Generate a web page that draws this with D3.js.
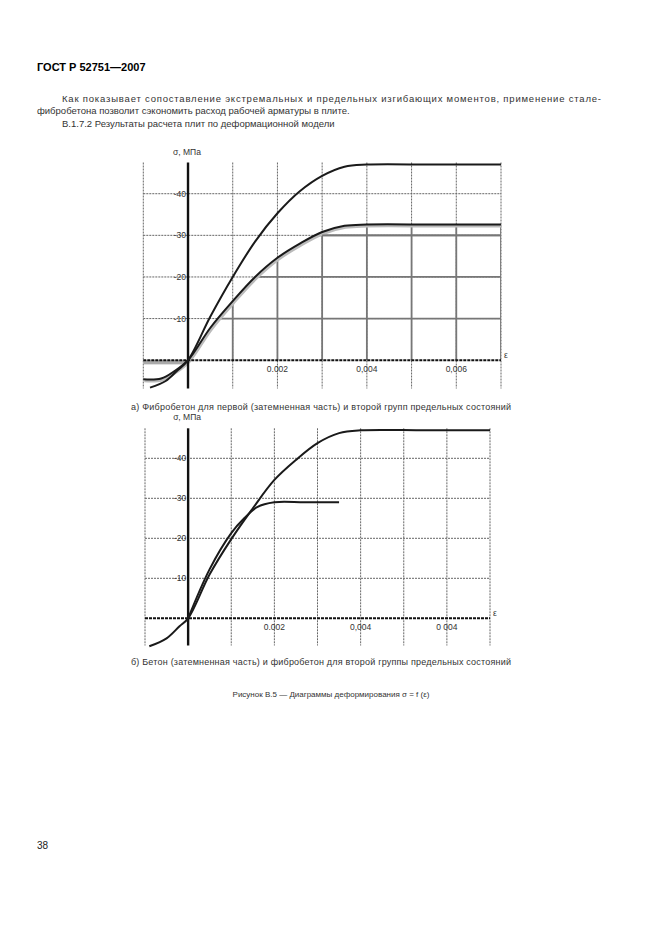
<!DOCTYPE html>
<html lang="ru">
<head>
<meta charset="UTF-8">
<title>ГОСТ Р 52751—2007</title>
<style>
  * { margin: 0; padding: 0; }
  body { background: #fff; }
  svg { display: block; font-family: "Liberation Sans", Arial, sans-serif; }
</style>
</head>
<body>
<script src="https://cdn.jsdelivr.net/npm/d3@7"></script>
<script>
// ---- данные ----
var xTicks = [0.002, 0.004, 0.006];
var yTicks = [10, 20, 30, 40];
var xLabelsA = ["0.002", "0,004", "0,006"];
var xLabelsB = ["0.002", "0,004", "0 004"];
var gridX = [-0.001, 0.001, 0.002, 0.003, 0.004, 0.005, 0.006, 0.007];

// график а: два фибробетона
var epsA1 = [-0.00085, -0.0005, -0.00025, 0, 0.0005, 0.001, 0.0015, 0.002, 0.0025, 0.003, 0.0035, 0.004, 0.0055, 0.007];
var sigA1 = [-6.6, -5, -2.6, 0, 10.5, 20, 28.5, 35.3, 40.6, 44.3, 46.5, 47, 47, 47];
var epsA2 = [-0.001, -0.0006, -0.0003, 0, 0.0005, 0.001, 0.0015, 0.002, 0.0025, 0.003, 0.0035, 0.004, 0.0055, 0.007];
var sigA2 = [-4.6, -4.4, -2.6, 0, 7.8, 14.2, 20, 24.6, 28, 30.8, 32.3, 32.6, 32.6, 32.6];
var epsA3 = [0.003, 0.007];
var sigA3 = [30, 30];

// график б: бетон и фибробетон
var epsB1 = [-0.0009, -0.0005, -0.0002, 0, 0.0005, 0.001, 0.0015, 0.002, 0.0025, 0.003, 0.0035, 0.004, 0.0055, 0.007];
var sigB1 = [-7, -5, -2, 0, 11, 19.8, 27.5, 34.6, 39.6, 43.8, 46.3, 47, 47, 47];
var epsB2 = [0, 0.0005, 0.001, 0.0013, 0.0016, 0.002, 0.0027, 0.0035];
var sigB2 = [0, 12.3, 21.3, 25, 27.8, 29, 29, 29];

var W = 661, H = 936;
var svg = d3.select("body").append("svg").attr("width", W).attr("height", H);

// ---- текст страницы ----
svg.append("text").attr("x", 37).attr("y", 71).attr("font-size", 11).attr("font-weight", "bold")
  .text("ГОСТ Р 52751—2007");
svg.append("text").attr("x", 62).attr("y", 102).attr("font-size", 9.5).attr("fill", "#333")
  .attr("textLength", 539).attr("lengthAdjust", "spacing")
  .text("Как показывает сопоставление экстремальных и предельных изгибающих моментов, применение стале-");
svg.append("text").attr("x", 37).attr("y", 114).attr("font-size", 9.5).attr("fill", "#333")
  .text("фибробетона позволит сэкономить расход рабочей арматуры в плите.");
svg.append("text").attr("x", 62).attr("y", 127).attr("font-size", 9.5).attr("fill", "#333")
  .text("В.1.7.2 Результаты расчета плит по деформационной модели");

function zip(e, s) { return e.map(function (v, i) { return [v, s[i]]; }); }

function chart(cfg) {
  var x = d3.scaleLinear().domain([-0.001, 0.007]).range([cfg.x0, cfg.x1]);
  var y = d3.scaleLinear().domain([-6.8, 47.5]).range([cfg.yBot, cfg.yTop]);
  var g = svg.append("g");
  var line = d3.line().x(function (d) { return x(d[0]); }).y(function (d) { return y(d[1]); }).curve(d3.curveCatmullRom.alpha(0.5));

  // сетка
  g.selectAll(".gx").data(gridX).enter().append("line")
    .attr("x1", function (d) { return x(d); }).attr("x2", function (d) { return x(d); })
    .attr("y1", y(47.5)).attr("y2", y(-6.8))
    .attr("stroke", "#666").attr("stroke-width", 1).attr("stroke-dasharray", "2,1");
  g.selectAll(".gy").data(yTicks).enter().append("line")
    .attr("x1", x(-0.001)).attr("x2", x(0.007))
    .attr("y1", function (d) { return y(d); }).attr("y2", function (d) { return y(d); })
    .attr("stroke", "#666").attr("stroke-width", 1).attr("stroke-dasharray", "2,1");

  // затемненная часть
  if (cfg.shade) {
    var pts = zip(epsA2, sigA2).filter(function (d) { return d[0] >= 0; });
    var area = d3.area().x(function (d) { return x(d[0]); }).y0(y(0)).y1(function (d) { return y(d[1]); }).curve(d3.curveCatmullRom.alpha(0.5));
    svg.append("clipPath").attr("id", "shade").append("path").attr("d", area(pts));
    var sg = g.append("g").attr("clip-path", "url(#shade)");
    sg.selectAll(".sx").data(gridX).enter().append("line")
      .attr("x1", function (d) { return x(d); }).attr("x2", function (d) { return x(d); })
      .attr("y1", y(47.5)).attr("y2", y(0))
      .attr("stroke", "#777").attr("stroke-width", 1.8);
    sg.selectAll(".sy").data(yTicks).enter().append("line")
      .attr("x1", x(0)).attr("x2", x(0.007))
      .attr("y1", function (d) { return y(d); }).attr("y2", function (d) { return y(d); })
      .attr("stroke", "#777").attr("stroke-width", 1.8);
    g.append("path").attr("d", line(zip(epsA2, sigA2))).attr("fill", "none")
      .attr("stroke", "#bbb").attr("stroke-width", 3).attr("transform", "translate(1,1.5)");
    g.append("path").attr("d", line(zip(epsA3, sigA3))).attr("fill", "none")
      .attr("stroke", "#777").attr("stroke-width", 1.8);
    g.append("rect").attr("x", x(-0.001)).attr("y", y(0)).attr("width", x(0) - x(-0.001)).attr("height", y(-1) - y(0))
      .attr("fill", "#aaa");
  }

  // оси
  g.append("line").attr("x1", x(-0.001)).attr("x2", x(0.007)).attr("y1", y(0)).attr("y2", y(0))
    .attr("stroke", "#111").attr("stroke-width", 2).attr("stroke-dasharray", "3,1");
  g.append("line").attr("x1", x(0)).attr("x2", x(0)).attr("y1", y(47.5)).attr("y2", y(-6.8))
    .attr("stroke", "#111").attr("stroke-width", 2.4);

  // подписи
  g.selectAll(".xl").data(xTicks).enter().append("text")
    .attr("x", function (d) { return x(d); }).attr("y", y(0) + 12)
    .attr("text-anchor", "middle").attr("font-size", 8.5).attr("fill", "#333")
    .text(function (d, i) { return cfg.xLabels[i]; });
  g.selectAll(".yl").data(yTicks).enter().append("text")
    .attr("x", x(0) - 2).attr("y", function (d) { return y(d) + 3; })
    .attr("text-anchor", "end").attr("font-size", 8.5).attr("fill", "#333")
    .text(function (d) { return "-" + d; });
  g.append("text").attr("x", x(0) - 15).attr("y", y(47.5) - 8).attr("font-size", 8.5).attr("fill", "#333").text("σ, МПа");
  g.append("text").attr("x", x(0.007) + 3).attr("y", y(0) - 2).attr("font-size", 8.5).attr("fill", "#333").text("ε");

  // кривые
  cfg.curves.forEach(function (c) {
    g.append("path").attr("d", line(c)).attr("fill", "none")
      .attr("stroke", "#1a1a1a").attr("stroke-width", 2);
  });

  svg.append("text").attr("x", cfg.capX).attr("y", cfg.capY).attr("font-size", 9).attr("fill", "#333")
    .attr("textLength", 380).attr("lengthAdjust", "spacing").text(cfg.caption);
}

chart({
  x0: 143.3, x1: 501, yTop: 162.5, yBot: 388.5,
  xLabels: xLabelsA, shade: true,
  curves: [zip(epsA1, sigA1), zip(epsA2, sigA2)],
  caption: "а) Фибробетон для первой (затемненная часть) и второй групп предельных состояний",
  capX: 131, capY: 410
});

chart({
  x0: 145, x1: 490, yTop: 428.3, yBot: 645.5,
  xLabels: xLabelsB, shade: false,
  curves: [zip(epsB1, sigB1), zip(epsB2, sigB2)],
  caption: "б) Бетон (затемненная часть) и фибробетон для второй группы предельных состояний",
  capX: 131, capY: 665
});

svg.append("text").attr("x", 331).attr("y", 697).attr("text-anchor", "middle").attr("font-size", 8).attr("fill", "#333")
  .text("Рисунок В.5 — Диаграммы деформирования σ = f (ε)");
svg.append("text").attr("x", 37).attr("y", 849).attr("font-size", 10).attr("fill", "#222").text("38");
</script>
</body>
</html>
